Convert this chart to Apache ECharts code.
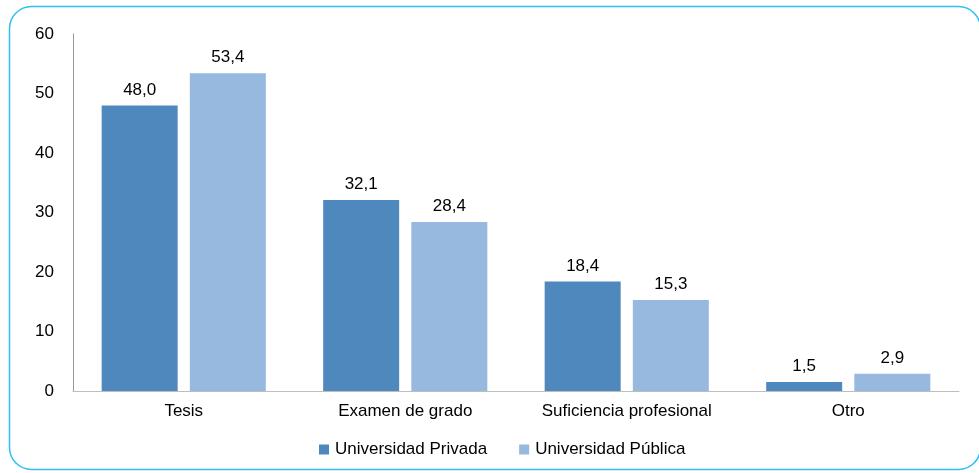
<!DOCTYPE html>
<html><head><meta charset="utf-8">
<script src="https://cdn.jsdelivr.net/npm/echarts@6/dist/echarts.min.js"></script>
<style>html,body{margin:0;padding:0;background:#fff}#c{width:979px;height:473px}</style>
</head><body><div id="c"></div>
<script>
const categories = ["Tesis", "Examen de grado", "Suficiencia profesional", "Otro"];
const privada = [48.0, 32.1, 18.4, 1.5];
const publica = [53.4, 28.4, 15.3, 2.9];
const seriesNames = ["Universidad Privada", "Universidad Pública"];
const yTicks = [0, 10, 20, 30, 40, 50, 60];

const chart = echarts.init(document.getElementById('c'), null, {renderer: 'canvas'});
const font = "'Liberation Sans', Arial, sans-serif";
const lbl = {show: true, position: 'top', distance: 7, fontFamily: font, fontSize: 17, color: '#000',
  formatter: p => p.value.toFixed(1).replace('.', ',')};
chart.setOption({
  animation: false,
  textStyle: {fontFamily: font},
  graphic: [{type: 'rect', shape: {x: 9.5, y: 6.5, width: 971, height: 463, r: 22},
    style: {fill: 'none', stroke: '#2EC0F0', lineWidth: 1.5}, z: 100}],
  grid: {left: 73, right: 20, top: 34, bottom: 82, containLabel: false},
  legend: {bottom: 10, left: 314, itemWidth: 10, itemHeight: 10, itemGap: 32, icon: 'rect',
    textStyle: {fontFamily: font, fontSize: 17, color: '#000', padding: [0, 0, 0, 1]}, data: seriesNames},
  xAxis: {type: 'category', data: categories,
    axisLine: {lineStyle: {color: '#bdbdbd', width: 1}}, axisTick: {show: false},
    axisLabel: {fontFamily: font, fontSize: 17, color: '#000', margin: 12}},
  yAxis: {type: 'value', min: yTicks[0], max: yTicks[yTicks.length-1], interval: 10,
    axisLine: {show: true, lineStyle: {color: '#999', width: 1}}, axisTick: {show: false},
    splitLine: {show: false},
    axisLabel: {fontFamily: font, fontSize: 17, color: '#000', margin: 19}},
  series: [
    {name: seriesNames[0], type: 'bar', data: privada, barWidth: 76, barGap: '16%',
      itemStyle: {color: '#4F88BD'}, label: lbl},
    {name: seriesNames[1], type: 'bar', data: publica, barWidth: 76,
      itemStyle: {color: '#97B8DF'}, label: lbl}
  ]
});
</script></body></html>
